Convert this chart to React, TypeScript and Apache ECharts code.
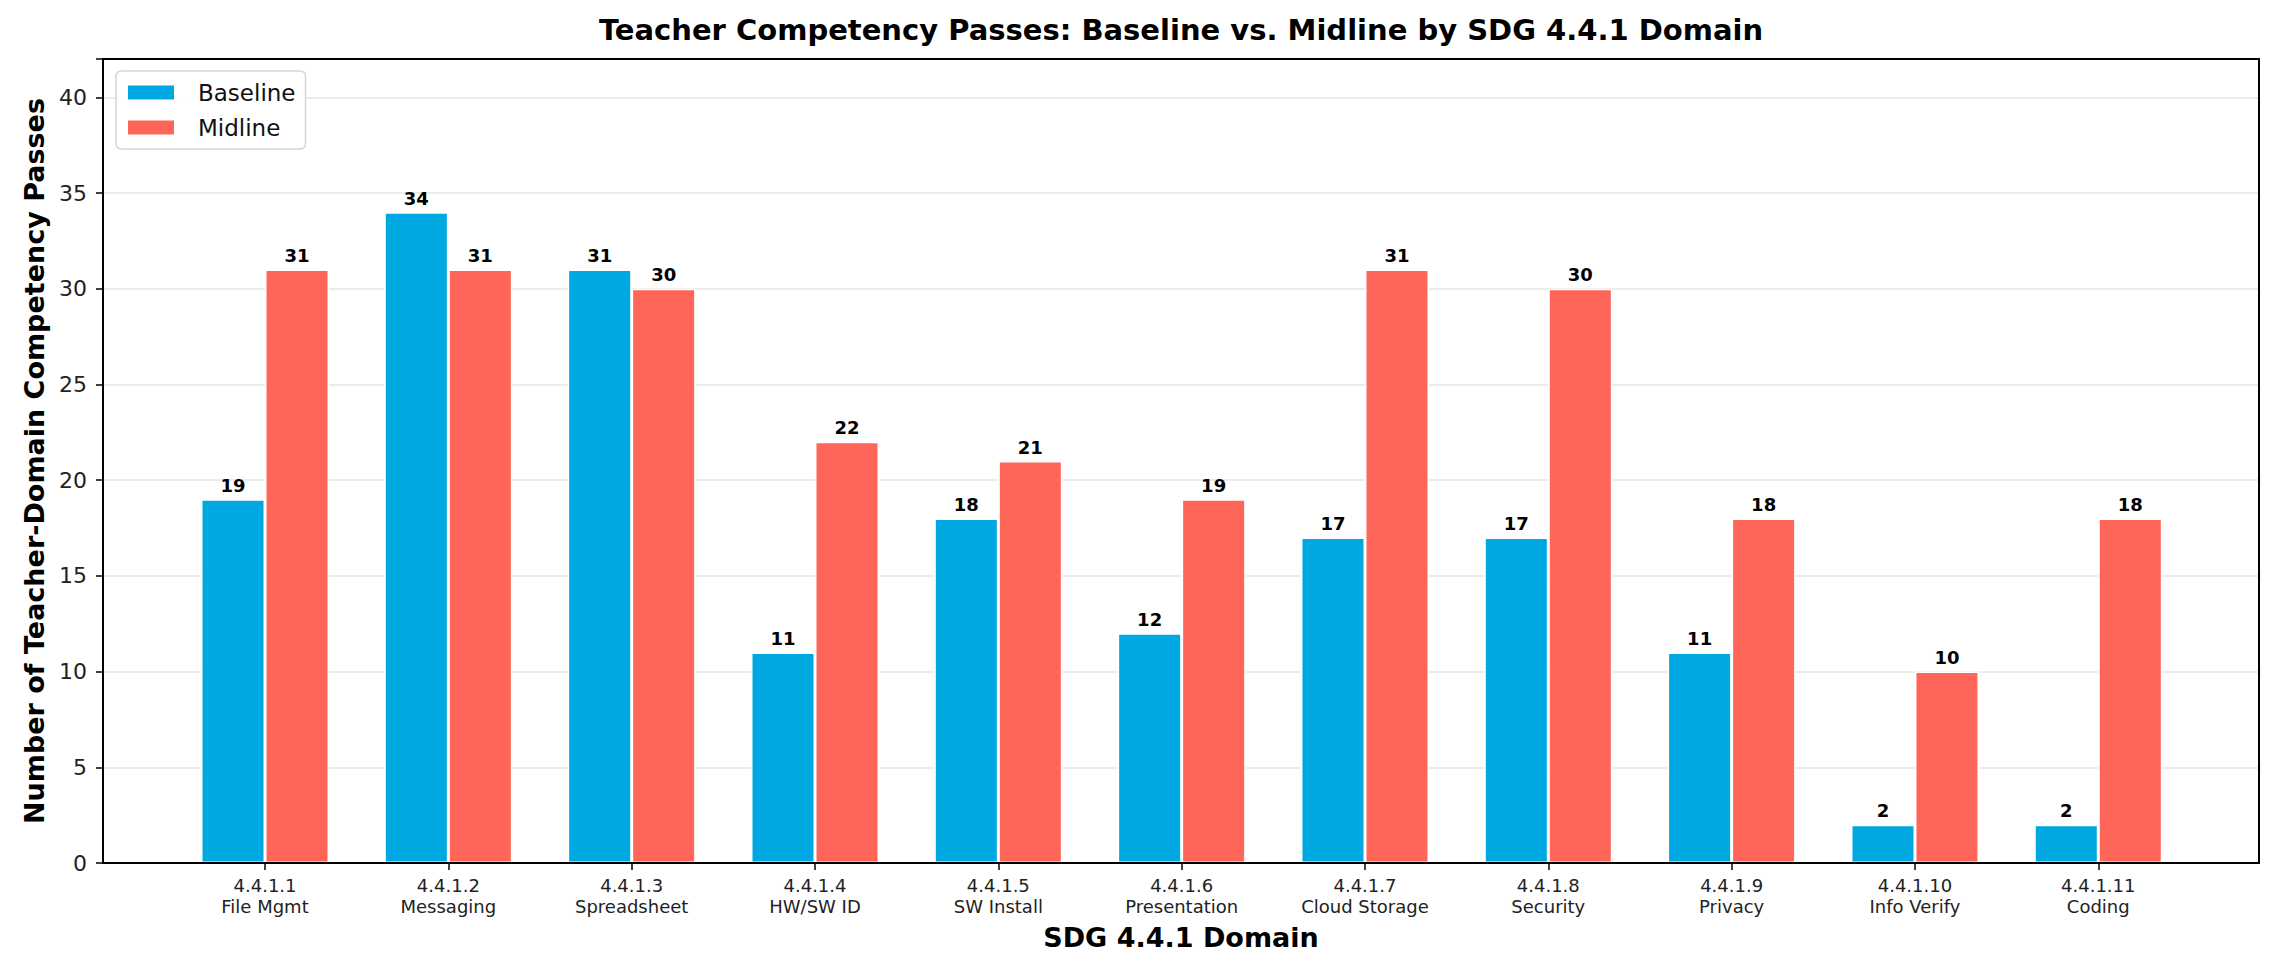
import React, { useEffect, useRef } from "react";
import * as echarts from "echarts";

const codes = ["4.4.1.1", "4.4.1.2", "4.4.1.3", "4.4.1.4", "4.4.1.5", "4.4.1.6", "4.4.1.7", "4.4.1.8", "4.4.1.9", "4.4.1.10", "4.4.1.11"];
const domains = ["File Mgmt", "Messaging", "Spreadsheet", "HW/SW ID", "SW Install", "Presentation", "Cloud Storage", "Security", "Privacy", "Info Verify", "Coding"];
const baseline = [19, 34, 31, 11, 18, 12, 17, 17, 11, 2, 2];
const midline = [31, 31, 30, 22, 21, 19, 31, 30, 18, 10, 18];
const yTicks = [0, 5, 10, 15, 20, 25, 30, 35, 40];

const FONT = "DejaVu Sans";

export default function App() {
  const ref = useRef<HTMLDivElement>(null);
  useEffect(() => {
    if (!ref.current) return;
    const chart = echarts.init(ref.current, null, { renderer: "svg" });
    const categories = codes.map((c, i) => c + "\n" + domains[i]);
    const frame = { left: 103, top: 59, width: 2156, height: 804 };
    chart.setOption({
      animation: false,
      backgroundColor: "#ffffff",
      textStyle: { fontFamily: FONT },
      title: {
        text: "Teacher Competency Passes: Baseline vs. Midline by SDG 4.4.1 Domain",
        left: 1181,
        textAlign: "center",
        top: 15,
        padding: 0,
        textStyle: { fontFamily: FONT, fontSize: 29, fontWeight: "bold", color: "#000" },
      },
      legend: {
        orient: "vertical",
        left: 116,
        top: 71,
        padding: [10, 10, 10, 10],
        itemWidth: 48,
        itemHeight: 16,
        itemGap: 12,
        backgroundColor: "rgba(255,255,255,0.85)",
        borderColor: "#d5d5d5",
        borderWidth: 1.5,
        borderRadius: 5,
        icon: "rect",
        textStyle: { fontFamily: FONT, fontSize: 23, color: "#111", padding: [0, 0, 0, 18] },
        data: ["Baseline", "Midline"],
      },
      graphic: [
        {
          type: "rect",
          shape: { x: frame.left, y: frame.top, width: frame.width, height: frame.height },
          style: { fill: "none", stroke: "#000", lineWidth: 2 },
          silent: true,
          z: 100,
        },
      ],
      grid: [
        { ...frame, show: false },
        { left: 173.35, top: 59, width: 2016.6, height: 804 },
      ],
      xAxis: [
        {
          gridIndex: 0,
          type: "value",
          min: 0,
          max: 1,
          axisLine: { show: false },
          axisTick: { show: false },
          axisLabel: { show: false },
          splitLine: { show: false },
          name: "SDG 4.4.1 Domain",
          nameLocation: "middle",
          nameGap: 61,
          nameTextStyle: { fontFamily: FONT, fontSize: 27, fontWeight: "bold", color: "#000" },
        },
        {
          gridIndex: 1,
          type: "category",
          data: categories,
          axisLine: { show: false },
          axisTick: { show: true, alignWithLabel: true, length: 7, lineStyle: { color: "#000", width: 1.5 } },
          axisLabel: { fontFamily: FONT, fontSize: 18, lineHeight: 21, color: "#222", margin: 12, interval: 0 },
          splitLine: { show: false },
        },
      ],
      yAxis: [
        {
          gridIndex: 0,
          type: "value",
          min: 0,
          max: 42,
          interval: 5,
          axisLine: { show: false },
          axisTick: { show: true, length: 7, lineStyle: { color: "#000", width: 1.5 } },
          axisLabel: {
            fontFamily: FONT,
            fontSize: 22,
            color: "#222",
            margin: 16,
            formatter: (v: number) => (yTicks.includes(v) ? String(v) : ""),
          },
          splitLine: { show: true, lineStyle: { color: "#e6e6e6", width: 1.5 } },
          name: "Number of Teacher-Domain Competency Passes",
          nameLocation: "middle",
          nameGap: 54,
          nameTextStyle: { fontFamily: FONT, fontSize: 27, fontWeight: "bold", color: "#000" },
        },
        {
          gridIndex: 1,
          type: "value",
          min: 0,
          max: 42,
          show: false,
          splitLine: { show: false },
        },
      ],
      series: [
        {
          name: "Baseline",
          type: "bar",
          xAxisIndex: 1,
          yAxisIndex: 1,
          data: baseline,
          barWidth: 64,
          barGap: "0%",
          itemStyle: { color: "#00A8E1", borderColor: "#ffffff", borderWidth: 1.5 },
          label: {
            show: true,
            position: "top",
            distance: 5,
            fontFamily: FONT,
            fontSize: 18,
            fontWeight: "bold",
            color: "#000",
          },
        },
        {
          name: "Midline",
          type: "bar",
          xAxisIndex: 1,
          yAxisIndex: 1,
          data: midline,
          barWidth: 64,
          barGap: "0%",
          itemStyle: { color: "#FF665A", borderColor: "#ffffff", borderWidth: 1.5 },
          label: {
            show: true,
            position: "top",
            distance: 5,
            fontFamily: FONT,
            fontSize: 18,
            fontWeight: "bold",
            color: "#000",
          },
        },
      ],
    });
    return () => chart.dispose();
  }, []);
  return (
    <div
      ref={ref}
      style={{ position: "fixed", left: 0, top: 0, width: 2278, height: 971, background: "#fff" }}
    />
  );
}
